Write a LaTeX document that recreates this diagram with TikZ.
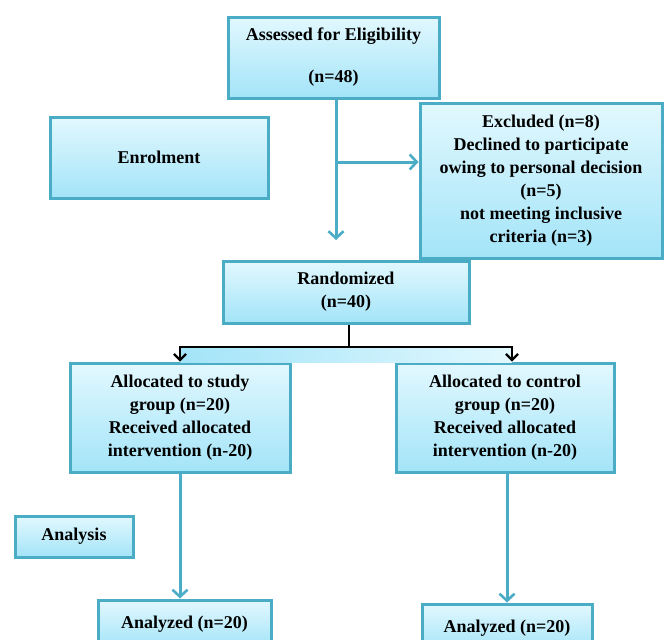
\documentclass[tikz,border=0pt]{standalone}
\usepackage{fontspec}
\setmainfont{Liberation Serif}
\usepackage{tikz}
\usetikzlibrary{arrows.meta, positioning, calc, shadows}
\usepackage{xcolor}
\definecolor{boxline}{HTML}{4BACC6}
\definecolor{boxtop}{HTML}{E2F8FE}
\definecolor{boxbot}{HTML}{A3E4F8}

\tikzset{
  flowbox/.style={draw=boxline, line width=3pt, top color=boxtop, bottom color=boxbot,
    drop shadow={opacity=0.35, shadow xshift=1.5pt, shadow yshift=-1.5pt},
    align=center, inner sep=2pt, font=\fontsize{18}{23}\selectfont\bfseries},
  flowarr/.style={draw=boxline, line width=3pt, -{Straight Barb[length=7pt,width=15pt,line width=2.6pt]}},
  brkline/.style={draw=black, line width=2.2pt},
}

\begin{document}
\begin{tikzpicture}[x=1pt, y=-1pt]
\useasboundingbox (0,0) rectangle (665,640);

% boxes
\node[flowbox, minimum width=211pt, minimum height=81pt] (assess) at (333.5,57.5) {Assessed for Eligibility\\[19pt](n=48)};
\node[flowbox, minimum width=218pt, minimum height=81pt] (enrol) at (159,157.5) {Enrolment};
\node[flowbox, minimum width=242pt, minimum height=155pt] (excl) at (541,180.5)
  {Excluded (n=8)\\Declined to participate\\owing to personal decision\\(n=5)\\not meeting inclusive\\criteria (n=3)};
\node[flowbox, minimum width=246pt, minimum height=62pt] (rand) at (346,292) {Randomized\\(n=40)};
\node[flowbox, minimum width=220pt, minimum height=109pt] (study) at (180,417.5)
  {Allocated to study\\group (n=20)\\Received allocated\\intervention (n-20)};
\node[flowbox, minimum width=218pt, minimum height=109pt] (control) at (505,417.5)
  {Allocated to control\\group (n=20)\\Received allocated\\intervention (n-20)};
\node[flowbox, minimum width=118pt, minimum height=41pt] (analysis) at (74,536.5) {Analysis};
\node[flowbox, minimum width=173pt, minimum height=48pt] (anlA) at (184.5,624) {Analyzed (n=20)};
\node[flowbox, minimum width=170pt, minimum height=48pt] (anlB) at (507,628) {Analyzed (n=20)};

% enrolment arrows
\coordinate (down) at (336,240);
\coordinate (jn) at (336,162);
\draw[flowarr] (assess.south -| down) -- (down);
\draw[flowarr] (jn) -- (jn -| excl.west);

% randomisation bracket
\coordinate (br) at (349,347);
\shade[left color=boxbot, right color=boxtop] (180,347) rectangle (512,362);
\draw[brkline] (rand.south -| br) -- (br);
\draw[brkline, -{Straight Barb[length=6pt,width=12pt,line width=2.2pt]}] (br) -| (study.north);
\draw[brkline, -{Straight Barb[length=6pt,width=12pt,line width=2.2pt]}] (br) -| ([xshift=7pt]control.north);

% analysis arrows
\draw[flowarr] (study.south) -- (study.south |- anlA.north);
\draw[flowarr] (anlB.north |- control.south) -- (anlB.north);
\end{tikzpicture}
\end{document}
